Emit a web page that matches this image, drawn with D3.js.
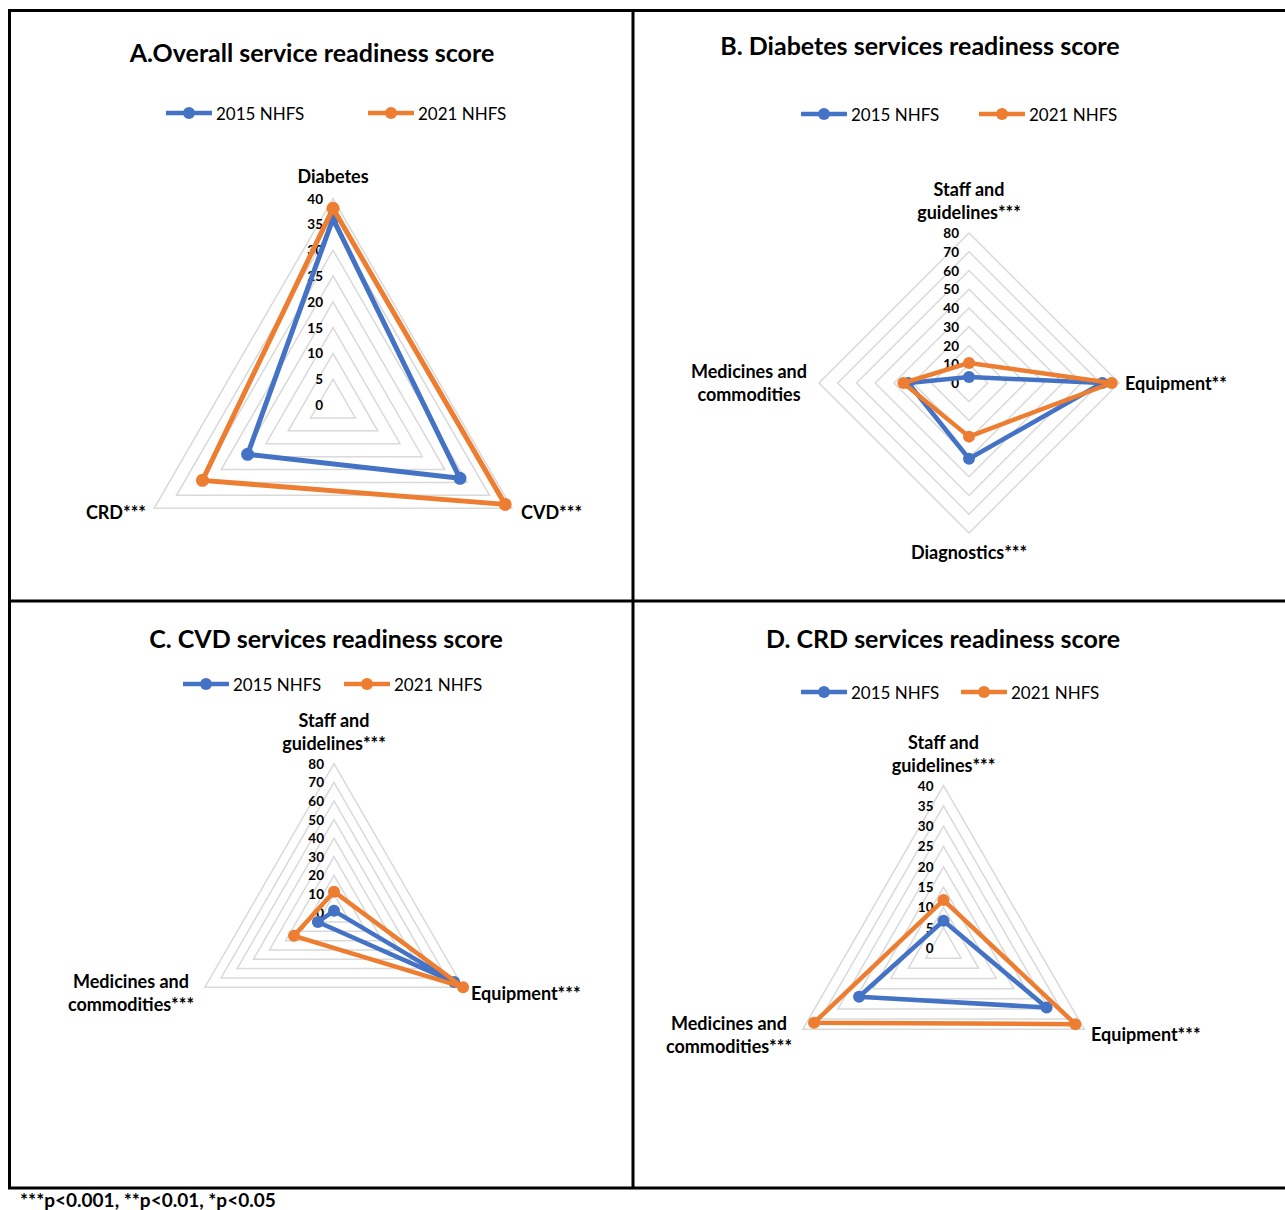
<!DOCTYPE html>
<html>
<head>
<meta charset="utf-8">
<script src="https://cdn.jsdelivr.net/npm/d3@7"></script>
<style>
  body { margin: 0; background: #fff; }
  text { font-family: Lato, "Open Sans", "DejaVu Sans", sans-serif; fill: #000; }
</style>
</head>
<body>
<svg id="chart" width="1285" height="1210"></svg>
<script>
// ---- Data ----------------------------------------------------------------
const seriesNames = ["2015 NHFS", "2021 NHFS"];
const seriesColors = ["#4472C4", "#ED7D31"];

// A. Overall service readiness score
const overallAxes = [["Diabetes"], ["CVD***"], ["CRD***"]];
const overall2015 = [36.1, 28.4, 19.1];
const overall2021 = [38.1, 38.5, 29.2];
const overallTicks = [0, 5, 10, 15, 20, 25, 30, 35, 40];

// B. Diabetes services readiness score
const diabetesAxes = [["Staff and", "guidelines***"], ["Equipment**"], ["Diagnostics***"], ["Medicines and", "commodities"]];
const diabetes2015 = [3.2, 71.1, 40.4, 32.4];
const diabetes2021 = [10.7, 76.1, 28.6, 35.0];
const diabetesTicks = [0, 10, 20, 30, 40, 50, 60, 70, 80];

// C. CVD services readiness score
const cvdAxes = [["Staff and", "guidelines***"], ["Equipment***"], ["Medicines and", "commodities***"]];
const cvd2015 = [1.0, 74.5, 10.0];
const cvd2021 = [11.3, 80.0, 24.8];
const cvdTicks = [0, 10, 20, 30, 40, 50, 60, 70, 80];

// D. CRD services readiness score
const crdAxes = [["Staff and", "guidelines***"], ["Equipment***"], ["Medicines and", "commodities***"]];
const crd2015 = [6.7, 29.3, 24.0];
const crd2021 = [11.8, 37.5, 36.8];
const crdTicks = [0, 5, 10, 15, 20, 25, 30, 35, 40];

const footnote = "***p<0.001, **p<0.01, *p<0.05";

// ---- Layout --------------------------------------------------------------
const panels = [
  {
    title: "A.Overall service readiness score", titleX: 312, titleY: 52,
    legendX: [166, 368], legendY: 113,
    cx: 333, cy: 405, R: 206.5, lineW: 5, dotR: 6.5,
    axes: overallAxes, values: [overall2015, overall2021], ticks: overallTicks,
    labelPos: [
      { x: 0, y: -229, anchor: "middle" },
      { x: 188, y: 107, anchor: "start" },
      { x: -187, y: 107, anchor: "end" }
    ]
  },
  {
    title: "B. Diabetes services readiness score", titleX: 920, titleY: 45,
    legendX: [801, 979], legendY: 114,
    cx: 969, cy: 383, R: 150, lineW: 4.5, dotR: 6,
    axes: diabetesAxes, values: [diabetes2015, diabetes2021], ticks: diabetesTicks,
    labelPos: [
      { x: 0, y: -194, anchor: "middle" },
      { x: 156, y: 0, anchor: "start" },
      { x: 0, y: 169, anchor: "middle" },
      { x: -220, y: -12, anchor: "middle" }
    ]
  },
  {
    title: "C. CVD services readiness score", titleX: 326, titleY: 638,
    legendX: [183, 344], legendY: 684,
    cx: 334, cy: 912.7, R: 149, lineW: 4.5, dotR: 6,
    axes: cvdAxes, values: [cvd2015, cvd2021], ticks: cvdTicks,
    labelPos: [
      { x: 0, y: -193, anchor: "middle" },
      { x: 137, y: 80, anchor: "start" },
      { x: -203, y: 68, anchor: "middle" }
    ]
  },
  {
    title: "D. CRD services readiness score", titleX: 943, titleY: 638,
    legendX: [801, 961], legendY: 692,
    cx: 943.5, cy: 948, R: 162.5, lineW: 4.5, dotR: 6,
    axes: crdAxes, values: [crd2015, crd2021], ticks: crdTicks,
    labelPos: [
      { x: 0, y: -206, anchor: "middle" },
      { x: 147.5, y: 86, anchor: "start" },
      { x: -214.5, y: 75, anchor: "middle" }
    ]
  }
];

const svg = d3.select("#chart");

// ---- Frame ---------------------------------------------------------------
const frame = svg.append("g").attr("stroke", "#000").attr("stroke-width", 3).attr("fill", "none");
frame.append("rect").attr("x", 9.5).attr("y", 10.5).attr("width", 1290).attr("height", 1177.5);
frame.append("line").attr("x1", 633).attr("x2", 633).attr("y1", 10).attr("y2", 1188);
frame.append("line").attr("x1", 9).attr("x2", 1290).attr("y1", 601).attr("y2", 601);

// ---- Radar panels --------------------------------------------------------
panels.forEach(p => {
  const g = svg.append("g").attr("transform", `translate(${p.cx},${p.cy})`);
  const n = p.axes.length;
  const maxV = d3.max(p.ticks);
  const r = d3.scaleLinear().domain([0, maxV]).range([0, p.R]);
  const angle = d3.scaleLinear().domain([0, n]).range([-Math.PI / 2, 1.5 * Math.PI]);
  const pt = (v, i) => [r(v) * Math.cos(angle(i)), r(v) * Math.sin(angle(i))];
  const ring = d3.line().curve(d3.curveLinearClosed);

  // grid polygons
  g.append("g").selectAll("path")
    .data(p.ticks.filter(t => t > 0))
    .join("path")
    .attr("d", t => ring(d3.range(n).map(i => pt(t, i))))
    .attr("fill", "none")
    .attr("stroke", "#d9d9d9")
    .attr("stroke-width", 1.5);

  // tick labels along the first axis
  g.append("g").selectAll("text")
    .data(p.ticks)
    .join("text")
    .attr("x", -10)
    .attr("y", t => -r(t))
    .attr("text-anchor", "end")
    .attr("dominant-baseline", "central")
    .attr("font-size", 13.5)
    .attr("font-weight", 700)
    .text(t => t);

  // series polygons and markers
  p.values.forEach((vals, s) => {
    const pts = vals.map((v, i) => pt(v, i));
    g.append("path")
      .attr("d", ring(pts))
      .attr("fill", "none")
      .attr("stroke", seriesColors[s])
      .attr("stroke-width", p.lineW)
      .attr("stroke-linejoin", "round");
    g.append("g").selectAll("circle")
      .data(pts)
      .join("circle")
      .attr("cx", d => d[0])
      .attr("cy", d => d[1])
      .attr("r", p.dotR)
      .attr("fill", seriesColors[s]);
  });

  // axis labels
  p.axes.forEach((lines, i) => {
    const lp = p.labelPos[i];
    const t = g.append("text")
      .attr("text-anchor", lp.anchor)
      .attr("font-size", 18)
      .attr("font-weight", 700);
    lines.forEach((ln, k) => {
      t.append("tspan")
        .attr("x", lp.x)
        .attr("y", lp.y + k * 23)
        .attr("dominant-baseline", "central")
        .text(ln);
    });
  });

  // title
  svg.append("text")
    .attr("x", p.titleX).attr("y", p.titleY)
    .attr("text-anchor", "middle")
    .attr("dominant-baseline", "central")
    .attr("font-size", 25)
    .attr("font-weight", 700)
    .text(p.title);

  // legend
  const lg = svg.append("g");
  seriesNames.forEach((name, s) => {
    const x0 = p.legendX[s];
    lg.append("line")
      .attr("x1", x0).attr("x2", x0 + 46)
      .attr("y1", p.legendY).attr("y2", p.legendY)
      .attr("stroke", seriesColors[s]).attr("stroke-width", 4.5);
    lg.append("circle")
      .attr("cx", x0 + 23).attr("cy", p.legendY).attr("r", 6)
      .attr("fill", seriesColors[s]);
    lg.append("text")
      .attr("x", x0 + 50).attr("y", p.legendY)
      .attr("dominant-baseline", "central")
      .attr("font-size", 17)
      .text(name);
  });
});

// ---- Footnote ------------------------------------------------------------
svg.append("text")
  .attr("x", 20).attr("y", 1199)
  .attr("dominant-baseline", "central")
  .attr("font-size", 19)
  .attr("font-weight", 700)
  .text(footnote);
</script>
</body>
</html>
